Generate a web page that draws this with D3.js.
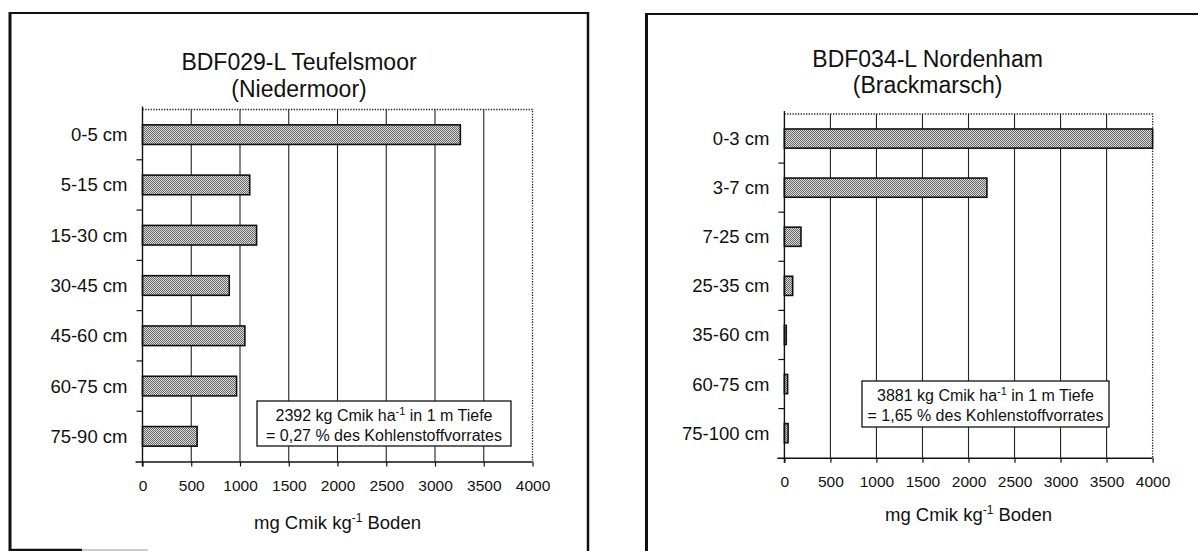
<!DOCTYPE html>
<html>
<head>
<meta charset="utf-8">
<script src="https://cdn.jsdelivr.net/npm/d3@7/dist/d3.min.js"></script>
<style>
  html, body { margin: 0; padding: 0; background: #fff; }
  svg { display: block; }
  text { font-family: "Liberation Sans", Arial, Helvetica, sans-serif; fill: #111; }
</style>
</head>
<body>
<svg id="chart" width="1198" height="551"></svg>
<script>
// Microbial biomass carbon (Cmik) by soil depth at two monitoring sites
const xTicks = [0, 500, 1000, 1500, 2000, 2500, 3000, 3500, 4000];

const teufelsmoorTitle = ["BDF029-L Teufelsmoor", "(Niedermoor)"];
const teufelsmoorDepths = ["0-5 cm", "5-15 cm", "15-30 cm", "30-45 cm", "45-60 cm", "60-75 cm", "75-90 cm"];
const teufelsmoorCmik = [3260, 1100, 1170, 890, 1050, 965, 560];
const teufelsmoorNote = ["2392", "0,27"];

const nordenhamTitle = ["BDF034-L Nordenham", "(Brackmarsch)"];
const nordenhamDepths = ["0-3 cm", "3-7 cm", "7-25 cm", "25-35 cm", "35-60 cm", "60-75 cm", "75-100 cm"];
const nordenhamCmik = [4000, 2200, 180, 90, 20, 35, 40];
const nordenhamNote = ["3881", "1,65"];

const FONT = '"Liberation Sans", Arial, Helvetica, sans-serif';
const svg = d3.select("#chart");

// stippled fill used for the bars
const defs = svg.append("defs");
const pat = defs.append("pattern")
  .attr("id", "stipple").attr("patternUnits", "userSpaceOnUse")
  .attr("width", 2).attr("height", 2);
pat.append("rect").attr("width", 2).attr("height", 2).attr("fill", "#dcdcdc");
pat.append("rect").attr("x", 0).attr("y", 0).attr("width", 1).attr("height", 1).attr("fill", "#666");
pat.append("rect").attr("x", 1).attr("y", 1).attr("width", 1).attr("height", 1).attr("fill", "#666");

function drawPanel(cfg) {
  const g = svg.append("g");

  // frame around the panel
  cfg.frame.forEach(s => {
    g.append("line")
      .attr("x1", s[0]).attr("y1", s[1]).attr("x2", s[2]).attr("y2", s[3])
      .attr("stroke", s[5] || "#111").attr("stroke-width", s[4]);
  });

  // title
  cfg.title.forEach((t, i) => {
    g.append("text")
      .attr("x", cfg.titleX).attr("y", cfg.titleY[i])
      .attr("text-anchor", "middle")
      .style("font-size", "23px")
      .text(t);
  });

  const x = d3.scaleLinear().domain([0, 4000]).range([cfg.left, cfg.right]).clamp(true);
  const y = d3.scaleBand().domain(cfg.categories).range([cfg.top, cfg.bottom]).padding(0);
  const bw = y.bandwidth();
  const barH = bw * 0.39;

  // vertical gridlines
  g.append("g").selectAll("line")
    .data(xTicks.filter(v => v > 0 && v < 4000))
    .join("line")
    .attr("x1", d => x(d)).attr("x2", d => x(d))
    .attr("y1", cfg.top).attr("y2", cfg.bottom)
    .attr("stroke", "#222").attr("stroke-width", 1.1);

  // dotted top and right edges of the plot area
  g.append("path")
    .attr("d", `M${x(0)},${cfg.top}H${x(4000)}V${cfg.bottom}`)
    .attr("fill", "none").attr("stroke", "#222").attr("stroke-width", 1.3)
    .attr("stroke-dasharray", "1.3,1.4");

  // bars
  g.append("g").selectAll("rect")
    .data(cfg.values)
    .join("rect")
    .attr("x", x(0))
    .attr("y", (d, i) => y(cfg.categories[i]) + (bw - barH) / 2)
    .attr("width", d => Math.max(x(d) - x(0), 0.5))
    .attr("height", barH)
    .attr("fill", "url(#stipple)")
    .attr("stroke", "#111").attr("stroke-width", 1.6);

  // x axis
  const xAxis = d3.axisBottom(x).tickValues(xTicks).tickFormat(d3.format("d"))
    .tickSize(5).tickSizeOuter(0).tickPadding(9);
  const ax = g.append("g").attr("transform", `translate(0,${cfg.bottom})`).call(xAxis);
  ax.select(".domain").attr("stroke", "#111").attr("stroke-width", 1.5)
    .attr("d", `M${x(0) - 7},0.5H${x(4000)}`);
  ax.selectAll(".tick line").attr("stroke", "#111").attr("stroke-width", 1.2);
  ax.selectAll(".tick text")
    .attr("fill", "#111")
    .style("font-family", FONT).style("font-size", "15.5px");
  ax.selectAll(".tick text").attr("y", cfg.tickLabelDy);

  // y axis line and boundary ticks between depth layers
  g.append("line")
    .attr("x1", x(0)).attr("x2", x(0))
    .attr("y1", cfg.top - 3).attr("y2", cfg.bottom + 5)
    .attr("stroke", "#111").attr("stroke-width", 1.4);
  g.append("g").selectAll("line")
    .data(cfg.categories.slice(1))
    .join("line")
    .attr("x1", x(0) - 6).attr("x2", x(0))
    .attr("y1", d => y(d)).attr("y2", d => y(d))
    .attr("stroke", "#111").attr("stroke-width", 1.2);

  // depth labels
  g.append("g").selectAll("text")
    .data(cfg.categories)
    .join("text")
    .attr("x", x(0) - 15)
    .attr("y", d => y(d) + bw / 2 + 6.5)
    .attr("text-anchor", "end")
    .style("font-size", "18.5px")
    .text(d => d);

  // x axis title with superscript
  const xt = g.append("text")
    .attr("x", (cfg.left + cfg.right) / 2).attr("y", cfg.xTitleY)
    .attr("text-anchor", "middle")
    .style("font-size", "18.5px");
  xt.append("tspan").text("mg Cmik kg");
  xt.append("tspan").attr("dy", -7).style("font-size", "12px").text("-1");
  xt.append("tspan").attr("dy", 7).text(" Boden");

  // stock annotation box
  const nb = cfg.noteBox;
  g.append("rect")
    .attr("x", nb[0]).attr("y", nb[1]).attr("width", nb[2]).attr("height", nb[3])
    .attr("fill", "#fff").attr("stroke", "#111").attr("stroke-width", 1.3);
  const cx = nb[0] + nb[2] / 2;
  const l1 = g.append("text").attr("x", cx).attr("y", nb[1] + 19.5)
    .attr("text-anchor", "middle").style("font-size", "16px");
  l1.append("tspan").text(cfg.note[0] + " kg Cmik ha");
  l1.append("tspan").attr("dy", -6).style("font-size", "11px").text("-1");
  l1.append("tspan").attr("dy", 6).text(" in 1 m Tiefe");
  g.append("text").attr("x", cx).attr("y", nb[1] + 39.5)
    .attr("text-anchor", "middle").style("font-size", "16px")
    .text("= " + cfg.note[1] + " % des Kohlenstoffvorrates");
}

drawPanel({
  title: teufelsmoorTitle, categories: teufelsmoorDepths, values: teufelsmoorCmik, note: teufelsmoorNote,
  left: 142.5, right: 532.5, top: 109.5, bottom: 461.5,
  titleX: 299, titleY: [70, 96.5],
  tickLabelDy: 18.5, xTitleY: 529,
  noteBox: [257, 401, 254, 45],
  frame: [
    [9, 13, 589, 13, 2],
    [10, 12, 10, 551, 3],
    [588, 12, 588, 551, 2.5],
    [9, 550, 82, 550, 2.5],
    [82, 550, 148, 550, 1.5, "#bbb"]
  ]
});

drawPanel({
  title: nordenhamTitle, categories: nordenhamDepths, values: nordenhamCmik, note: nordenhamNote,
  left: 784.4, right: 1152.6, top: 114, bottom: 457.7,
  titleX: 927.6, titleY: [66.5, 93],
  tickLabelDy: 18, xTitleY: 520.5,
  noteBox: [862, 381, 247, 46],
  frame: [
    [645, 14, 1198, 14, 2],
    [646.5, 13, 646.5, 551, 3]
  ]
});
</script>
</body>
</html>
